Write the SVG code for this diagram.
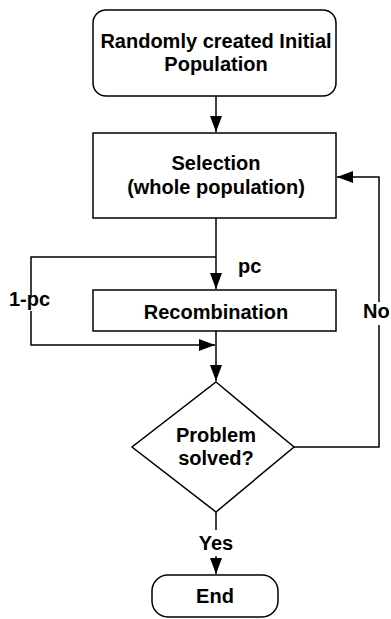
<svg xmlns="http://www.w3.org/2000/svg" width="391" height="619" viewBox="0 0 391 619">
<style>
.box{fill:#fff;stroke:#000;stroke-width:1.5}
.ln{fill:none;stroke:#000;stroke-width:1.5}
text{font-family:"Liberation Sans",Arial,sans-serif;font-weight:bold;font-size:20px;fill:#000;text-anchor:middle}
.st{text-anchor:start}
</style>
<defs>
<marker id="ah" markerUnits="userSpaceOnUse" markerWidth="17" markerHeight="12" refX="16" refY="6" orient="auto">
<path d="M0,0 L16,6 L0,12 Z" fill="#000"/>
</marker>
</defs>
<g id="connectors">
<path class="ln" d="M216,96 V132" marker-end="url(#ah)"/>
<path class="ln" d="M216,218 V289" marker-end="url(#ah)"/>
<path class="ln" d="M216,257 H31 V296 M31,311 V345 H215" marker-end="url(#ah)"/>
<path class="ln" d="M216,331 V381" marker-end="url(#ah)"/>
<path class="ln" d="M294,447 H379 V325 M379,302 V177 H337" marker-end="url(#ah)"/>
<path class="ln" d="M216,512 V530 M216,556 V574" marker-end="url(#ah)"/>
<text class="st" x="238" y="273">pc</text>
<text class="st" x="9" y="306">1-pc</text>
<text class="st" x="363" y="318">No</text>
<text x="216" y="550">Yes</text>
</g>
<g id="start">
<rect class="box" x="93" y="10" width="243" height="86" rx="13"/>
<text x="216" y="48">Randomly created Initial</text>
<text x="216" y="71">Population</text>
</g>
<g id="selection">
<rect class="box" x="93" y="133" width="243" height="85"/>
<text x="216" y="170">Selection</text>
<text x="216" y="194">(whole population)</text>
</g>
<g id="recombination">
<rect class="box" x="93" y="290" width="243" height="41"/>
<text x="216" y="319">Recombination</text>
</g>
<g id="decision">
<polygon class="box" points="216,382 294,447 216,512 132,447"/>
<text x="216" y="442">Problem</text>
<text x="216" y="465">solved?</text>
</g>
<g id="end">
<rect class="box" x="152" y="575" width="126" height="42" rx="16"/>
<text x="215" y="603">End</text>
</g>
</svg>
